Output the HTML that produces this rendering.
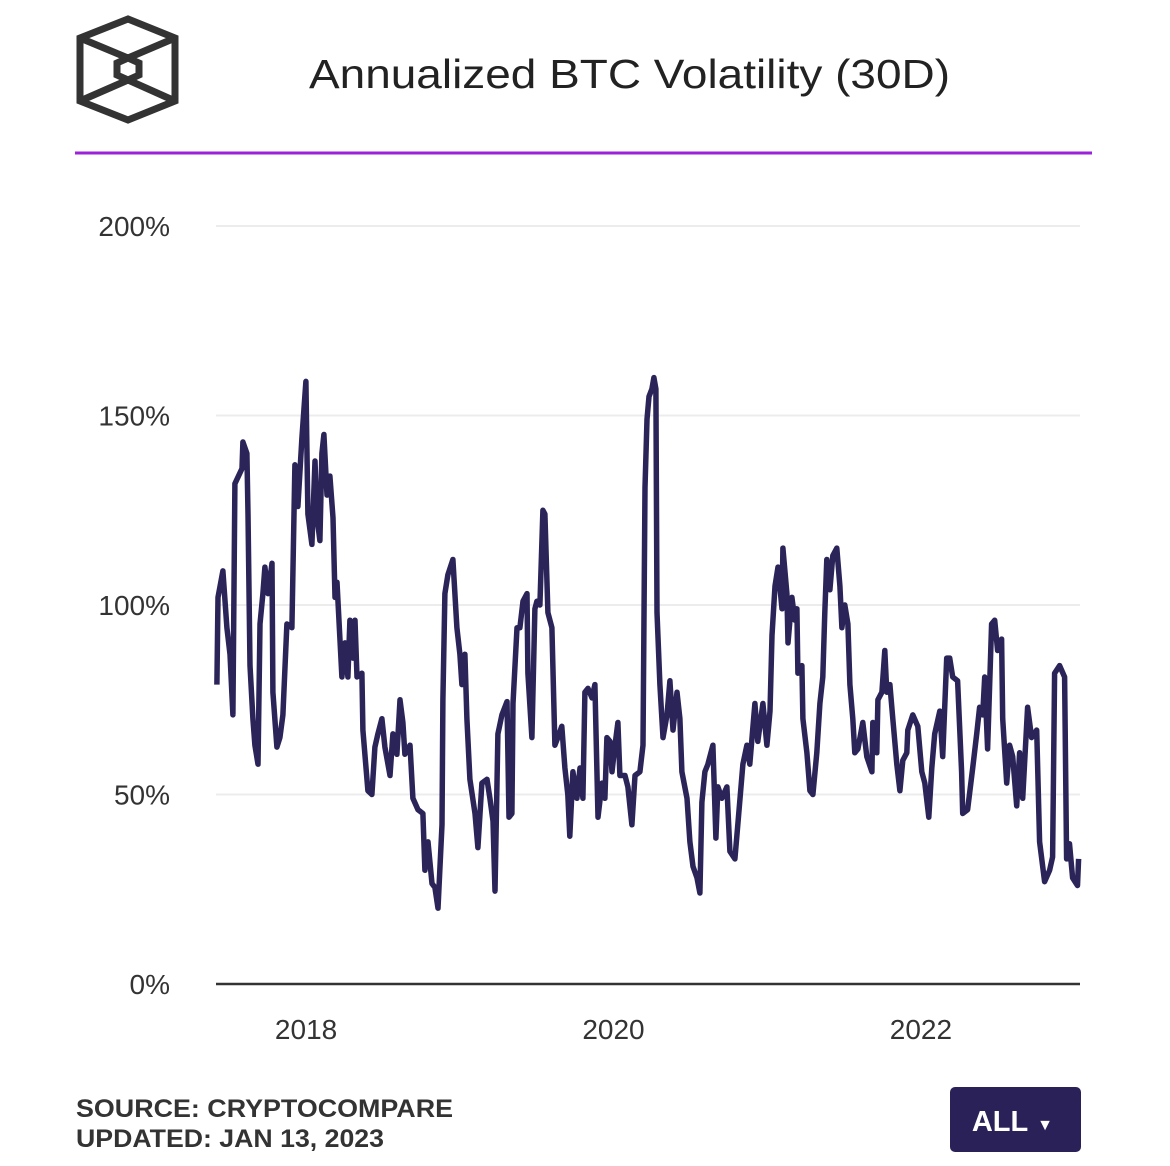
<!DOCTYPE html>
<html><head><meta charset="utf-8"><style>
html,body{margin:0;padding:0;background:#fff;}
svg{display:block;}
text{font-family:"Liberation Sans",sans-serif;}
</style></head><body>
<svg id="chart" width="1170" height="1166" viewBox="0 0 1170 1166" xmlns="http://www.w3.org/2000/svg">
<g fill="none" stroke="#333" stroke-width="7" stroke-linejoin="miter">
<polygon points="128,19 175,38 175,101 128,120 80,101 80,38"/>
<polygon points="128,58 139,63 139,75 128,80 117,75 117,63"/>
<line x1="80" y1="38" x2="128" y2="58"/><line x1="175" y1="38" x2="128" y2="58"/>
<line x1="80" y1="101" x2="128" y2="80"/><line x1="175" y1="101" x2="128" y2="80"/>
</g>
<text x="309" y="88" font-size="41" fill="#222" textLength="641" lengthAdjust="spacingAndGlyphs">Annualized BTC Volatility (30D)</text>
<line x1="75" y1="153" x2="1092" y2="153" stroke="#9b22d8" stroke-width="3"/>
<g id="grid"></g>
<g id="yt"></g>
<g id="xt"></g>
<g id="series"></g>
<line x1="216" y1="984" x2="1080" y2="984" stroke="#333" stroke-width="2.5"/>
<text x="76" y="1117" font-size="25" font-weight="bold" fill="#333" textLength="377" lengthAdjust="spacingAndGlyphs">SOURCE: CRYPTOCOMPARE</text>
<text x="76" y="1147" font-size="25" font-weight="bold" fill="#333" textLength="308" lengthAdjust="spacingAndGlyphs">UPDATED: JAN 13, 2023</text>
<g>
<rect x="950" y="1087" width="131" height="65" rx="5" fill="#2b2159"/>
<text x="1000" y="1131" text-anchor="middle" font-size="29" font-weight="bold" fill="#fff">ALL</text>
<text x="1045" y="1130" text-anchor="middle" font-size="16" fill="#fff">▼</text>
</g>
</svg>
<script>
const yTicks=[0,50,100,150,200];
const yTickLabels=["0%","50%","100%","150%","200%"];
const xTicks=[2018,2020,2022];
const xTickLabels=["2018","2020","2022"];
const dates=[2017.420,2017.427,2017.459,2017.485,2017.505,2017.524,2017.537,2017.583,2017.589,2017.615,2017.622,2017.635,2017.654,2017.667,2017.687,2017.700,2017.719,2017.732,2017.752,2017.778,2017.784,2017.810,2017.830,2017.849,2017.875,2017.908,2017.927,2017.947,2017.973,2017.999,2018.012,2018.038,2018.058,2018.071,2018.090,2018.103,2018.116,2018.136,2018.155,2018.175,2018.188,2018.201,2018.233,2018.253,2018.272,2018.285,2018.305,2018.318,2018.331,2018.363,2018.370,2018.402,2018.428,2018.448,2018.467,2018.493,2018.513,2018.546,2018.565,2018.591,2018.611,2018.630,2018.643,2018.676,2018.695,2018.728,2018.760,2018.773,2018.793,2018.819,2018.838,2018.858,2018.884,2018.890,2018.903,2018.923,2018.955,2018.968,2018.981,2019.001,2019.014,2019.033,2019.046,2019.066,2019.099,2019.118,2019.144,2019.177,2019.196,2019.216,2019.229,2019.248,2019.274,2019.307,2019.320,2019.339,2019.346,2019.372,2019.391,2019.411,2019.437,2019.443,2019.469,2019.489,2019.502,2019.521,2019.541,2019.554,2019.573,2019.599,2019.619,2019.638,2019.664,2019.684,2019.703,2019.716,2019.736,2019.762,2019.782,2019.801,2019.814,2019.834,2019.860,2019.879,2019.899,2019.925,2019.944,2019.957,2019.977,2019.990,2020.010,2020.029,2020.042,2020.075,2020.094,2020.120,2020.140,2020.172,2020.192,2020.205,2020.218,2020.231,2020.250,2020.263,2020.276,2020.283,2020.302,2020.322,2020.348,2020.367,2020.387,2020.413,2020.432,2020.445,2020.478,2020.497,2020.517,2020.543,2020.562,2020.575,2020.595,2020.614,2020.647,2020.666,2020.679,2020.705,2020.738,2020.757,2020.790,2020.809,2020.842,2020.868,2020.887,2020.920,2020.939,2020.972,2020.998,2021.018,2021.031,2021.051,2021.070,2021.096,2021.102,2021.128,2021.135,2021.161,2021.180,2021.193,2021.200,2021.226,2021.232,2021.258,2021.278,2021.297,2021.323,2021.343,2021.362,2021.375,2021.388,2021.408,2021.427,2021.453,2021.473,2021.486,2021.505,2021.525,2021.538,2021.557,2021.570,2021.590,2021.622,2021.648,2021.681,2021.687,2021.713,2021.720,2021.746,2021.765,2021.778,2021.798,2021.817,2021.843,2021.863,2021.882,2021.908,2021.915,2021.947,2021.980,2022.006,2022.025,2022.051,2022.071,2022.090,2022.123,2022.142,2022.168,2022.187,2022.207,2022.239,2022.265,2022.272,2022.304,2022.337,2022.363,2022.382,2022.402,2022.415,2022.434,2022.460,2022.480,2022.499,2022.525,2022.532,2022.558,2022.577,2022.597,2022.623,2022.642,2022.662,2022.694,2022.720,2022.753,2022.772,2022.805,2022.837,2022.857,2022.870,2022.902,2022.935,2022.948,2022.967,2022.987,2023.019,2023.026];
const volatility=[79,102,109,94,87,71,132,136,143,140,124,84,70,63,58,95,103,110,103,111,77,62.5,65,71,95,94,137,126,144,159,124,116,138,123,117,140,145,129,134,123,102,106,81,90,81,96,86,96,81,82,67,51,50,62.5,66,70,62.5,55,66,60.6,75,69,60.6,63,49,46,45,30,37.5,26.5,25.5,20,42,75,103,108,112,103,94,87,79,87,70,54,45,36,53,54,49,43,24.5,66,71,74.5,44,45,74,94,94,101,103,82,65,99,101,100,125,124,98,94,63,65,68,57,50,39,56,49,57,49,77,78,75.5,79,44,53,49,65,64,56,63,69,55,55,52,42,55,56,63,131,149,155,157,160,157,98,79,65,71,80,67,77,70,56,49,37.5,31,28,24,48,56,58,63,38.5,52,49,52,35,33,42,58,63,58,74,64,74,63,72,92,105,110,99,115,103,90,102,96,99,82,84,70,61,51,50,61,74,81,98,112,104,113,115,105,94,100,95,79,70,61,62,69,60,56,69,61,75,77,88,77,79,70,58,51,59,61,67,71,68,56,53,44,57,66,72,60,86,86,81,80,56,45,46,57,66,73,71,81,62,95,96,88,91,70,53,63,60,47,61,49,73,65,67,37.5,27,30,33.5,82,84,81,33,37,28,26,33];
const NS="http://www.w3.org/2000/svg";
const X0=216,X1=1080,D0=2017.414,D1=2023.035;
const xScale=d=>X0+(d-D0)/(D1-D0)*(X1-X0);
const yScale=v=>984-v*(984-226)/200;
const grid=document.getElementById('grid'),yt=document.getElementById('yt'),xt=document.getElementById('xt'),ser=document.getElementById('series');
yTicks.forEach((t,i)=>{
 if(t>0){const l=document.createElementNS(NS,'line');
 
 
 l.setAttribute('x1',X0);l.setAttribute('x2',X1);l.setAttribute('y1',yScale(t));l.setAttribute('y2',yScale(t));
 l.setAttribute('stroke','#ececec');l.setAttribute('stroke-width','2');grid.appendChild(l);}
 const tx=document.createElementNS(NS,'text');
 
 
 tx.setAttribute('x',170);tx.setAttribute('y',yScale(t)+10);tx.setAttribute('text-anchor','end');
 tx.setAttribute('font-size','28');tx.setAttribute('fill','#333');tx.textContent=yTickLabels[i];yt.appendChild(tx);
});
xTicks.forEach((t,i)=>{
 const tx=document.createElementNS(NS,'text');
 
 
 tx.setAttribute('x',xScale(t));tx.setAttribute('y',1039);tx.setAttribute('text-anchor','middle');
 tx.setAttribute('font-size','28');tx.setAttribute('fill','#333');tx.textContent=xTickLabels[i];xt.appendChild(tx);
});
const p=document.createElementNS(NS,'path');


p.setAttribute('d',dates.map((d,i)=>(i?'L':'M')+xScale(d).toFixed(1)+','+yScale(volatility[i]).toFixed(1)).join(''));
p.setAttribute('fill','none');p.setAttribute('stroke','#2b2459');p.setAttribute('stroke-width','5.5');p.setAttribute('stroke-linejoin','round');
ser.appendChild(p);
</script>
</body></html>
